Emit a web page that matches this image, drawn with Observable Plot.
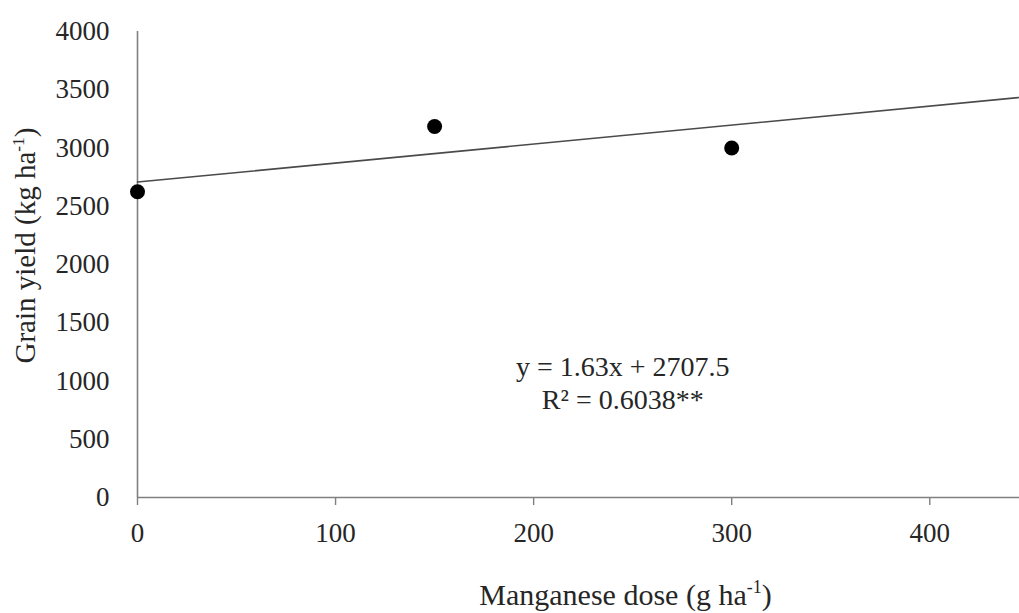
<!DOCTYPE html>
<html><head><meta charset="utf-8">
<script src="https://cdn.jsdelivr.net/npm/d3@7"></script>
<script src="https://cdn.jsdelivr.net/npm/@observablehq/plot@0.6"></script>
<style>html,body{margin:0;padding:0;background:#fff;overflow:hidden}svg{overflow:hidden}</style>
</head><body><div id="chart"></div>
<script>
// Observed means
const doses = [0, 150, 300];
const yields = [2625, 3185, 3000];
// Fitted line y = 1.63x + 2707.5, endpoints
const trendDoses = [0, 445];
const trendYields = [2707.5, 3433];
// Axes
const xTicks = [0, 100, 200, 300, 400];
const yTicks = [0, 500, 1000, 1500, 2000, 2500, 3000, 3500, 4000];
const xDomain = [0, 445.3];
const yDomain = [0, 4000];
// Texts
const xTitle = "Manganese dose (g ha⁻¹)";
const yTitle = "Grain yield (kg ha⁻¹)";
const equationText = "y = 1.63x + 2707.5\nR² = 0.6038**";
const equationPos = {x: 245, y: 990};

const points = doses.map((d, i) => ({dose: d, yield: yields[i]}));
const trend = trendDoses.map((d, i) => ({dose: d, yield: trendYields[i]}));

const axisColor = "#808080";
const textColor = "#262626";

const chart = Plot.plot({
  width: 1019,
  height: 613,
  marginLeft: 137,
  marginRight: 0,
  marginTop: 31,
  marginBottom: 116,
  style: {fontFamily: "'Liberation Serif', 'Times New Roman', serif", color: textColor, background: "#fff"},
  x: {domain: xDomain},
  y: {domain: yDomain},
  marks: [
    Plot.ruleY([0], {stroke: axisColor, strokeWidth: 1.6}),
    Plot.ruleX([0], {stroke: axisColor, strokeWidth: 1.6}),
    Plot.axisX({ticks: xTicks, tickFormat: d3.format("d"), tickSize: 8, tickPadding: 17, fontSize: 27, label: null, stroke: axisColor, strokeWidth: 1.4, fill: textColor}),
    Plot.axisY({ticks: yTicks, tickFormat: d3.format("d"), tickSize: 0, tickPadding: 28, fontSize: 27, label: null, fill: textColor}),
    Plot.line(trend, {x: "dose", y: "yield", stroke: "#4a4a4a", strokeWidth: 1.6}),
    Plot.dot(points, {x: "dose", y: "yield", r: 7.5, fill: "#000", stroke: "none"}),
    Plot.text([equationText], {x: () => equationPos.x, y: () => equationPos.y, text: d => d, fontSize: 28, lineHeight: 1.18, lineAnchor: "middle", textAnchor: "middle", fill: textColor}),
    Plot.text([xTitle], {frameAnchor: "bottom", text: d => d, dx: 47, dy: 107, lineAnchor: "bottom", textAnchor: "middle", fontSize: 30, fill: textColor}),
    Plot.text([yTitle], {frameAnchor: "left", text: d => d, rotate: -90, dx: -112, dy: -19, lineAnchor: "middle", textAnchor: "middle", fontSize: 29, fill: textColor})
  ]
});
document.getElementById("chart").appendChild(chart);

// Render "⁻¹" as a real superscript "-1"
chart.querySelectorAll("text").forEach(t => {
  const s = t.textContent;
  if (!s.includes("⁻¹") || t.children.length) return;
  const fs = parseFloat(getComputedStyle(t).fontSize) || 28;
  const [before, after] = s.split("⁻¹");
  t.textContent = "";
  t.appendChild(document.createTextNode(before));
  const sup = document.createElementNS("http://www.w3.org/2000/svg", "tspan");
  sup.setAttribute("dy", -0.38 * fs);
  sup.setAttribute("font-size", 0.6 * fs);
  sup.textContent = "-1";
  t.appendChild(sup);
  const rest = document.createElementNS("http://www.w3.org/2000/svg", "tspan");
  rest.setAttribute("dy", 0.38 * fs);
  rest.textContent = after;
  t.appendChild(rest);
});
</script>
</body></html>
